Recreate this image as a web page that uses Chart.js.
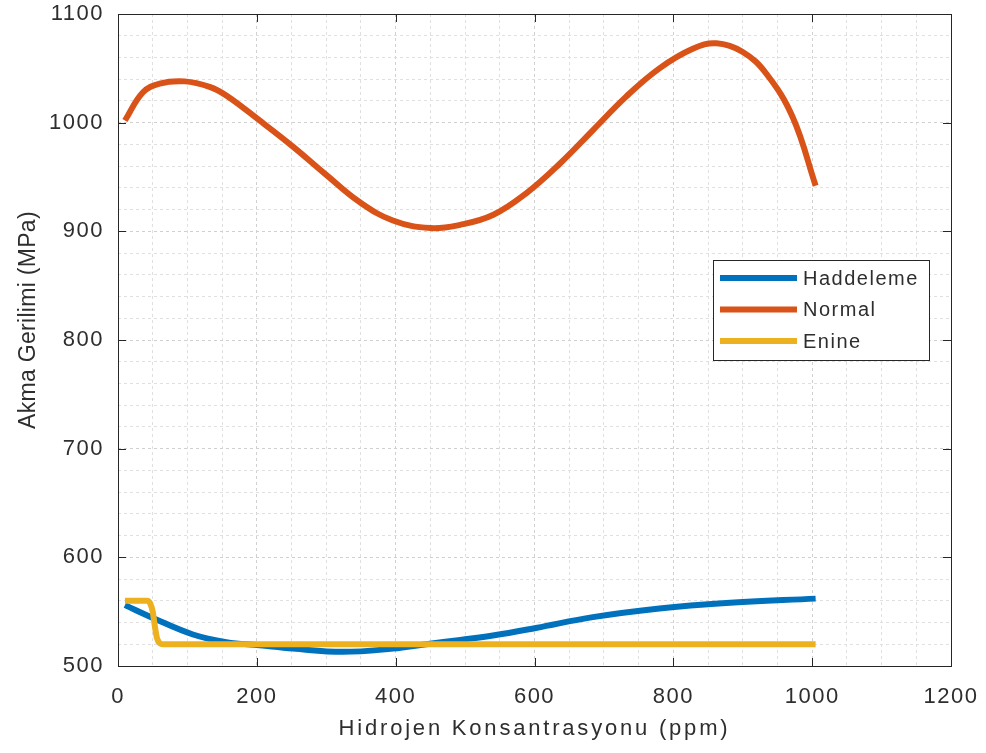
<!DOCTYPE html>
<html>
<head>
<meta charset="utf-8">
<script src="https://cdn.jsdelivr.net/npm/chart.js@4/dist/chart.umd.min.js"></script>
<style>
html,body{margin:0;padding:0;background:#fff;}
#wrap{width:986px;height:753px;}
</style>
</head>
<body>
<div id="wrap"><canvas id="c" width="986" height="753"></canvas></div>
<script>
// ---- data ----
const seriesNames = ['Haddeleme', 'Normal', 'Enine'];
const seriesColors = ['#0072BD', '#D95319', '#EDB120'];

const haddelemeX = [10, 51, 108, 156, 204, 252, 324, 396, 444, 493, 540, 602, 684, 780, 876, 1005];
const haddelemeY = [556, 544, 529, 522, 519, 516, 513, 516, 520, 524, 528, 535, 545, 553, 558, 562];

const normalX = [10, 36, 60, 96, 132, 156, 204, 252, 300, 348, 396, 450, 493, 540, 588, 636, 684, 732, 780, 828, 862, 900, 934, 972, 1005];
const normalY = [1002, 1028, 1036, 1038, 1033, 1025, 1002, 978, 952, 927, 910, 903, 906, 915, 935, 962, 993, 1024, 1050, 1068, 1073, 1065, 1045, 1005, 942];

const enineX = [10, 42, 46, 50, 53, 56, 60, 65, 1005];
const enineY = [560, 560, 558, 550, 537, 526, 521, 520, 520];

const xTickLabels = [0, 200, 400, 600, 800, 1000, 1200];
const yTickLabels = [500, 600, 700, 800, 900, 1000, 1100];

const xTitle = 'Hidrojen Konsantrasyonu (ppm)';
const yTitle = 'Akma Gerilimi (MPa)';

// ---- build ----
function pts(xs, ys) { return xs.map((x, i) => ({x: x, y: ys[i]})); }

const FONT = '"Liberation Sans", Arial, sans-serif';
const TXT = '#2e2e2e';

// text spacing / offsets to mimic the reference's (slightly stretched) lettering
function wrapScale(scale, labelSpacing, titleSpacing, titleDy) {
  if (scale._wrapped) return;
  scale._wrapped = true;
  const dl = scale.drawLabels, dt = scale.drawTitle;
  scale.drawLabels = function () {
    const c = this.ctx; const prev = c.letterSpacing;
    c.letterSpacing = labelSpacing;
    dl.apply(this, arguments);
    c.letterSpacing = prev || '0px';
  };
  scale.drawTitle = function () {
    const c = this.ctx; const prev = c.letterSpacing;
    c.save();
    c.translate(0, titleDy);
    c.letterSpacing = titleSpacing;
    dt.apply(this, arguments);
    c.restore();
    c.letterSpacing = prev || '0px';
  };
}

const stylePlugin = {
  id: 'stylePlugin',
  beforeDraw(chart) {
    wrapScale(chart.scales.x, '1.5px', '2.8px', 0);
    wrapScale(chart.scales.y, '1.5px', '0.3px', -20);
  },
  afterDatasetsDraw(chart) {
    const {ctx, chartArea: a, scales} = chart;
    ctx.save();
    ctx.setLineDash([]);
    ctx.strokeStyle = '#262626';
    ctx.lineWidth = 1;
    ctx.strokeRect(Math.round(a.left) + 0.5, Math.round(a.top) + 0.5,
                   Math.round(a.right - a.left), Math.round(a.bottom - a.top));
    const tl = 8;
    ctx.beginPath();
    xTickLabels.forEach(v => {
      const px = Math.round(scales.x.getPixelForValue(v)) + 0.5;
      ctx.moveTo(px, a.bottom); ctx.lineTo(px, a.bottom - tl);
      ctx.moveTo(px, a.top); ctx.lineTo(px, a.top + tl);
    });
    yTickLabels.forEach(v => {
      const py = Math.round(scales.y.getPixelForValue(v)) + 0.5;
      ctx.moveTo(a.left, py); ctx.lineTo(a.left + tl, py);
      ctx.moveTo(a.right, py); ctx.lineTo(a.right - tl, py);
    });
    ctx.stroke();
    ctx.restore();
  },
  afterDraw(chart) {
    const {ctx, chartArea: a} = chart;
    const bx = a.right - 238, by = a.top + 246, bw = 216, bh = 100;
    ctx.save();
    ctx.setLineDash([]);
    ctx.fillStyle = '#fff';
    ctx.fillRect(bx, by, bw, bh);
    ctx.strokeStyle = '#262626';
    ctx.lineWidth = 1;
    ctx.strokeRect(Math.round(bx) + 0.5, Math.round(by) + 0.5, bw, bh);
    ctx.font = '20px ' + FONT;
    ctx.letterSpacing = '1.5px';
    ctx.textBaseline = 'middle';
    ctx.textAlign = 'left';
    seriesNames.forEach((name, i) => {
      const y = by + 18 + i * 31.5;
      ctx.strokeStyle = seriesColors[i];
      ctx.lineWidth = 6;
      ctx.beginPath();
      ctx.moveTo(bx + 7, y); ctx.lineTo(bx + 84, y);
      ctx.stroke();
      ctx.fillStyle = TXT;
      ctx.fillText(name, bx + 90, y + 1);
    });
    ctx.restore();
  }
};

const gridColor = (majors) => (c) => {
  if (c.tick && majors.includes(c.tick.value)) return '#d0d0d0';
  return '#e0e0e0';
};

new Chart(document.getElementById('c'), {
  type: 'line',
  data: {
    datasets: [
      {label: seriesNames[0], data: pts(haddelemeX, haddelemeY), borderColor: seriesColors[0], backgroundColor: seriesColors[0], order: 3, tension: 0.4},
      {label: seriesNames[1], data: pts(normalX, normalY), borderColor: seriesColors[1], backgroundColor: seriesColors[1], order: 2, tension: 0.4},
      {label: seriesNames[2], data: pts(enineX, enineY), borderColor: seriesColors[2], backgroundColor: seriesColors[2], order: 1, cubicInterpolationMode: 'monotone'}
    ]
  },
  options: {
    responsive: false,
    animation: false,
    devicePixelRatio: 1,
    layout: {padding: 0},
    plugins: {legend: {display: false}, tooltip: {enabled: false}},
    elements: {
      point: {radius: 0, hoverRadius: 0},
      line: {borderWidth: 6, borderCapStyle: 'butt', fill: false}
    },
    scales: {
      x: {
        type: 'linear', min: 0, max: 1200,
        afterFit(s) { s.height = 87; s.paddingLeft = 0; s.paddingRight = 35; },
        ticks: {
          stepSize: 50, autoSkip: false, maxRotation: 0, padding: 18,
          color: TXT, font: {family: FONT, size: 22},
          callback: v => xTickLabels.includes(v) ? String(v) : ''
        },
        grid: {drawTicks: false, color: gridColor(xTickLabels), lineWidth: 1},
        border: {display: false, dash: [3, 3]},
        title: {display: true, text: xTitle, color: TXT, font: {family: FONT, size: 22}, padding: {top: 0, bottom: 11}}
      },
      y: {
        type: 'linear', min: 500, max: 1100,
        afterFit(s) { s.width = 118; s.paddingTop = 14; s.paddingBottom = 0; },
        ticks: {
          stepSize: 20, autoSkip: false, padding: 14,
          color: TXT, font: {family: FONT, size: 22},
          callback: v => yTickLabels.includes(v) ? String(v) : ''
        },
        grid: {drawTicks: false, color: gridColor(yTickLabels), lineWidth: 1},
        border: {display: false, dash: [3, 3]},
        title: {display: true, text: yTitle, color: TXT, font: {family: FONT, size: 23}, padding: {top: 15, bottom: 0}}
      }
    }
  },
  plugins: [stylePlugin]
});
</script>
</body>
</html>
